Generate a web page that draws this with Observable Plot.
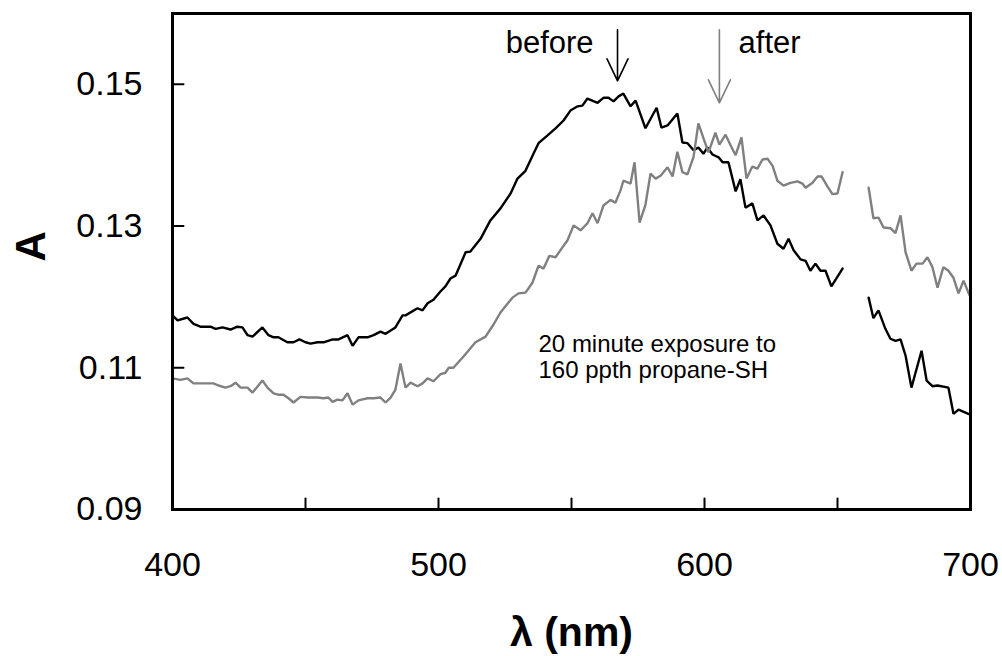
<!DOCTYPE html>
<html><head><meta charset="utf-8">
<script src="https://cdn.jsdelivr.net/npm/d3@7"></script>
<script src="https://cdn.jsdelivr.net/npm/@observablehq/plot@0.6"></script>
<style>body{margin:0;background:#fff;} svg{display:block}</style>
</head><body><div id="chart"></div>
<script>
// "before" exposure spectrum (black), two segments (gap near 655-660 nm)
const beforeSeg1Lambda = [400.0,401.9,405.6,407.9,410.5,414.3,416.2,418.8,421.8,424.4,426.3,428.2,430.1,433.8,436.1,438.0,439.8,443.2,445.5,447.7,450.0,451.9,454.5,456.8,460.2,462.4,465.8,467.7,469.9,473.3,475.6,478.2,480.1,483.8,486.5,487.6,492.1,494.0,495.9,498.1,500.8,502.6,504.5,506.4,510.2,512.0,515.8,519.5,523.3,527.1,529.7,532.7,535.7,537.6,541.0,544.0,547.0,549.6,552.3,554.1,556.0,559.8,562.0,563.9,565.8,567.7,569.5,572.2,574.1,577.8,582.0,583.8,586.1,589.8,591.7,593.6,595.9,597.7,599.6,601.1,603.0,605.3,606.8,609.0,611.7,613.5,615.4,618.0,619.9,622.2,624.8,627.4,629.7,631.6,633.5,636.1,638.0,639.8,641.7,643.6,645.5,647.7,651.9];
const beforeSeg1A = [0.1174,0.1167,0.1171,0.1162,0.1158,0.1158,0.1155,0.1157,0.1154,0.1158,0.1157,0.1146,0.1144,0.1157,0.1146,0.1143,0.1143,0.1136,0.1136,0.1140,0.1136,0.1134,0.1136,0.1136,0.1140,0.1140,0.1146,0.1131,0.1143,0.1143,0.1146,0.1151,0.1148,0.1157,0.1174,0.1174,0.1184,0.1181,0.1191,0.1196,0.1208,0.1215,0.1226,0.1230,0.1263,0.1264,0.1282,0.1308,0.1325,0.1346,0.1367,0.1378,0.1402,0.1417,0.1428,0.1438,0.1449,0.1463,0.1469,0.1470,0.1480,0.1474,0.1481,0.1481,0.1476,0.1483,0.1487,0.1469,0.1477,0.1438,0.1467,0.1439,0.1442,0.1459,0.1418,0.1417,0.1407,0.1411,0.1402,0.1411,0.1401,0.1397,0.1390,0.1390,0.1349,0.1366,0.1326,0.1332,0.1308,0.1315,0.1301,0.1275,0.1268,0.1282,0.1266,0.1253,0.1251,0.1237,0.1247,0.1237,0.1237,0.1215,0.1240];
const beforeSeg2Lambda = [661.7,663.5,665.4,668.0,669.9,671.8,673.7,675.6,677.8,681.6,683.5,685.7,687.6,691.7,693.6,695.5,699.2,700.0];
const beforeSeg2A = [0.1199,0.1170,0.1181,0.1155,0.1141,0.1138,0.1140,0.1117,0.1072,0.1124,0.1082,0.1074,0.1075,0.1072,0.1035,0.1041,0.1035,0.1034];

// "after" exposure spectrum (gray)
const afterSeg1Lambda = [400.0,403.0,405.6,407.9,410.5,415.4,417.3,419.9,421.8,423.7,425.6,428.2,430.1,433.8,435.7,438.0,439.8,441.7,443.6,445.5,448.1,450.8,454.5,456.8,458.6,460.2,462.0,463.9,465.8,467.7,469.9,473.3,475.6,478.2,480.1,482.0,483.8,485.7,487.6,489.5,492.1,494.0,495.9,498.1,500.8,502.6,503.8,505.6,509.4,513.9,517.7,520.5,523.3,527.8,530.1,532.7,535.3,537.6,539.5,541.7,544.0,546.6,548.5,550.8,553.4,556.0,557.9,559.8,562.0,564.7,566.5,568.4,569.5,572.2,573.7,575.6,577.8,579.7,581.6,583.5,586.1,588.0,589.8,591.7,593.6,595.9,597.7,599.6,601.5,604.1,605.6,607.9,609.8,611.7,613.9,615.8,618.0,619.9,621.8,623.7,625.6,627.4,629.7,632.3,635.0,636.8,638.0,640.6,642.5,644.0,646.2,648.1,650.0,651.9];
const afterSeg1A = [0.1085,0.1083,0.1085,0.1078,0.1078,0.1078,0.1075,0.1072,0.1074,0.1079,0.1072,0.1072,0.1065,0.1082,0.1072,0.1064,0.1062,0.1062,0.1057,0.1051,0.1059,0.1058,0.1058,0.1057,0.1058,0.1052,0.1055,0.1054,0.1064,0.1048,0.1054,0.1057,0.1057,0.1058,0.1051,0.1058,0.1069,0.1106,0.1072,0.1079,0.1074,0.1078,0.1085,0.1081,0.1091,0.1093,0.1100,0.1100,0.1116,0.1136,0.1144,0.1160,0.1178,0.1199,0.1205,0.1206,0.1220,0.1244,0.1240,0.1258,0.1256,0.1270,0.1280,0.1301,0.1294,0.1304,0.1318,0.1304,0.1329,0.1337,0.1333,0.1350,0.1364,0.1360,0.1390,0.1305,0.1330,0.1374,0.1367,0.1371,0.1383,0.1370,0.1405,0.1376,0.1373,0.1398,0.1445,0.1424,0.1404,0.1432,0.1415,0.1429,0.1414,0.1400,0.1425,0.1367,0.1384,0.1381,0.1394,0.1395,0.1385,0.1364,0.1357,0.1361,0.1363,0.1360,0.1354,0.1361,0.1370,0.1370,0.1356,0.1345,0.1346,0.1376];
const afterSeg2Lambda = [661.7,663.5,665.4,667.3,669.9,671.8,673.7,675.6,677.8,679.7,682.0,683.8,685.7,687.6,689.8,691.7,693.6,695.5,697.4,699.2,700.0];
const afterSeg2A = [0.1354,0.1311,0.1312,0.1298,0.1297,0.1290,0.1315,0.1263,0.1237,0.1247,0.1247,0.1256,0.1242,0.1213,0.1242,0.1237,0.1227,0.1205,0.1223,0.1206,0.1200];

// axis ticks
const xTickLabels = [400, 500, 600, 700];
const xTickMarks = [450, 500, 550, 600, 650];
const yTickLabels = [0.09, 0.11, 0.13, 0.15];
const yTickMarks = [0.11, 0.13, 0.15];

// annotations (data units)
const arrowNames = ["before", "after"];
const arrowLambda = [567.3, 605.6];
const arrowTipA = [0.1505, 0.1474];
const labelLambda = [558.3, 612.8];
const labelA = [0.1544, 0.1544];
const noteText = ["20 minute exposure to", "160 ppth propane-SH"];
const noteLambda = 537.6;
const noteA = 0.1085;

const rows = [];
function addSeg(series, seg, ls, as) {
  ls.forEach((l, i) => rows.push({series, seg: series + seg, lambda: l, A: as[i]}));
}
addSeg("before", 1, beforeSeg1Lambda, beforeSeg1A);
addSeg("before", 2, beforeSeg2Lambda, beforeSeg2A);
addSeg("after", 1, afterSeg1Lambda, afterSeg1A);
addSeg("after", 2, afterSeg2Lambda, afterSeg2A);

const arrows = arrowNames.map((n, i) => ({name: n, lambda: arrowLambda[i], A: arrowTipA[i], lx: labelLambda[i], ly: labelA[i]}));

const tickShape = {draw(ctx, l) { ctx.moveTo(0, 0); ctx.lineTo(0, -l); }};
function arrowShape(w, d) {
  return {draw(ctx, l) {
    ctx.moveTo(0, 0); ctx.lineTo(0, -l);
    ctx.moveTo(-w, -l + d); ctx.lineTo(0, -l); ctx.lineTo(w, -l + d);
  }};
}

const font = "'Liberation Sans', Arial, Helvetica, sans-serif";

const chart = Plot.plot({
  width: 1002,
  height: 656,
  marginLeft: 172,
  marginRight: 32,
  marginTop: 13,
  marginBottom: 147,
  style: {fontFamily: font, background: "white", color: "black", overflow: "visible"},
  x: {domain: [400, 700]},
  y: {domain: [0.09, 0.16]},
  marks: [
    Plot.line(rows.filter(d => d.series === "before"), {x: "lambda", y: "A", z: "seg", stroke: "#000000", strokeWidth: 2.4, strokeLinejoin: "miter"}),
    Plot.line(rows.filter(d => d.series === "after"), {x: "lambda", y: "A", z: "seg", stroke: "#808080", strokeWidth: 2.4, strokeLinejoin: "miter"}),
    Plot.vector(xTickMarks, {x: d => d, frameAnchor: "bottom", length: 11, rotate: 0, anchor: "start", shape: tickShape, stroke: "black", strokeWidth: 2}),
    Plot.vector(yTickMarks, {y: d => d, frameAnchor: "left", length: 11, rotate: 90, anchor: "start", shape: tickShape, stroke: "black", strokeWidth: 2}),
    Plot.frame({stroke: "black", strokeWidth: 3}),
    Plot.axisX(xTickLabels, {tickSize: 0, tickPadding: 42, fontSize: 34, label: null, tickFormat: d => String(d)}),
    Plot.axisY(yTickLabels, {tickSize: 0, tickPadding: 30, fontSize: 34, label: null, tickFormat: d3.format(".2f")}),
    Plot.vector(arrows.filter(d => d.name === "before"), {x: "lambda", y: "A", length: 51, rotate: 180, anchor: "end", shape: arrowShape(10.5, 22), stroke: "#000000", strokeWidth: 1.6}),
    Plot.vector(arrows.filter(d => d.name === "after"), {x: "lambda", y: "A", length: 73, rotate: 180, anchor: "end", shape: arrowShape(11, 23), stroke: "#808080", strokeWidth: 1.6}),
    Plot.text(arrows.filter(d => d.name === "before"), {x: "lx", y: "ly", text: "name", textAnchor: "end", lineAnchor: "bottom", fontSize: 31, fill: "black"}),
    Plot.text(arrows.filter(d => d.name === "after"), {x: "lx", y: "ly", text: "name", textAnchor: "start", lineAnchor: "bottom", fontSize: 31, fill: "black"}),
    Plot.text([noteText.join("\n")], {x: () => noteLambda, y: () => noteA, text: d => d, textAnchor: "start", lineAnchor: "bottom", lineHeight: 1.09, fontSize: 24, fill: "black"}),
    Plot.text(["λ (nm)"], {frameAnchor: "bottom", dy: 136, lineAnchor: "bottom", fontSize: 41, fontWeight: "bold", fill: "black"}),
    Plot.text(["A"], {frameAnchor: "left", dx: -141, rotate: -90, lineAnchor: "middle", fontSize: 42, fontWeight: "bold", fill: "black"})
  ]
});
document.getElementById("chart").appendChild(chart);
</script>
</body></html>
